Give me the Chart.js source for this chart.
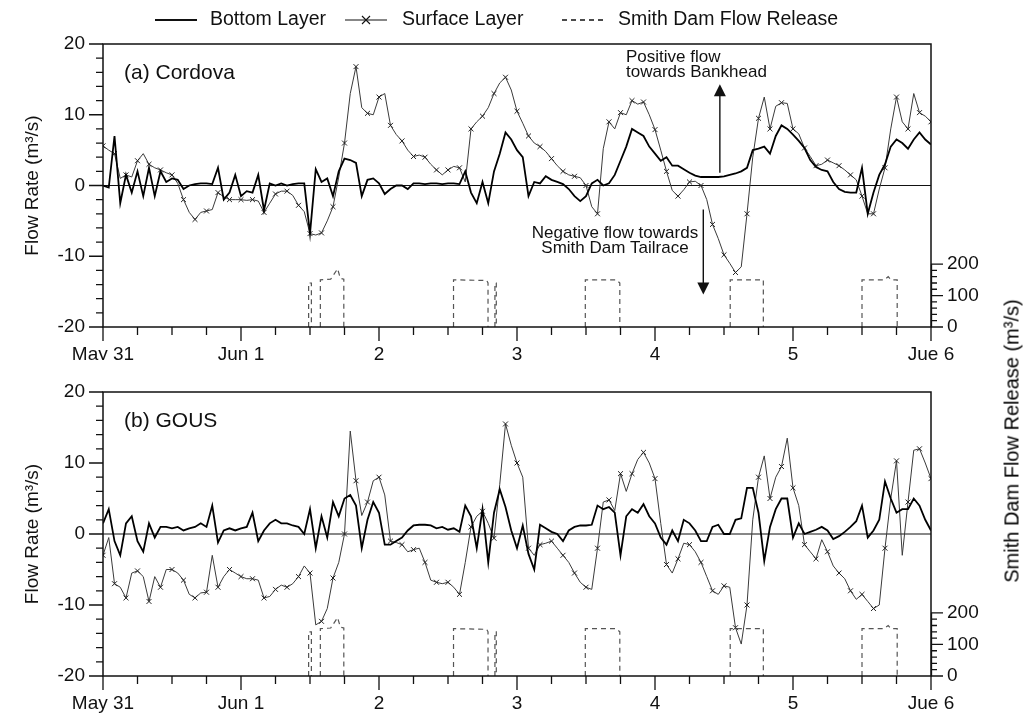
<!DOCTYPE html>
<html lang="en">
<head>
<meta charset="UTF-8">
<title>Flow rate at Cordova and GOUS</title>
<script src="https://cdn.jsdelivr.net/npm/chart.js"></script>
<style>
    body {
        margin: 0;
        background: #fff;
        font-family: 'Liberation Sans', Arial, sans-serif;
        overflow: hidden;
    }
    #page {
        position: relative;
        width: 1023px;
        height: 715px;
    }
    canvas {
        position: absolute;
        left: 0;
    }
    #cordova { top: 0; }
    #gous { top: 360px; }
    #releaseTitle {
        position: absolute;
        left: 1012px;
        top: 441px;
        transform: translate(-50%, -50%) rotate(-90deg);
        white-space: nowrap;
        font-size: 20px;
        color: #000;
    }
</style>
</head>
<body>
<div id="page">
    <canvas id="cordova" width="1023" height="360"></canvas>
    <canvas id="gous" width="1023" height="355"></canvas>
    <div id="releaseTitle">Smith Dam Flow Release (m³/s)</div>
</div>

<script>
    // hourly values, May 31 00:00 to Jun 6 00:00 (m3/s)
    const cordovaBottom = [
        0, -0.3, 7, -2.5, 1.5, -1, 2, -1.5, 2.5, -1.5, 2, 0.5, 1, 0.8, -0.5, 0, 0.2, 0.3, 0.3, 0.2,
        2.5, -2, -1, 1.5, -1.5, -0.8, -1, 1.5, -3.5, 0.3, 0, 0.3, 0, 0.2, 0.3, 0.3, -6.8, 2.3, 0.5, 1,
        -1.5, 2, 3.8, 3.6, 3.2, -1.5, 0.8, 1, 0.3, -1.2, -0.5, 0, 0, -0.5, 0.3, 0.3, 0.2, 0.3, 0.3, 0.2,
        0.3, 0.3, 0.2, 2, -1, -2.5, 0.5, -2.5, 2, 4.5, 7.5, 6.5, 5, 4, -1.5, 0.5, 0.3, 1.3, 0.8, 0.5,
        0.2, -0.5, -1.5, -2.2, -1.5, 0.3, 0.8, 0, 0.3, 1.5, 3.5, 5.5, 8, 7.5, 7, 5.5, 4.5, 3.5, 4, 2.8,
        2.8, 2.3, 1.8, 1.4, 1.2, 1.2, 1.2, 1.2, 1.3, 1.5, 1.7, 2, 2.5, 5, 5.2, 5.5, 4.5, 7, 8.5, 8,
        7.2, 6.3, 5.3, 3.6, 2.6, 2.2, 2, 0.5, -0.5, -0.9, -1, -1, 2.5, -4, -1, 1.5, 3, 5.5, 6.5, 6,
        5.2, 6.5, 7.5, 6.5, 5.8
    ];
    const cordovaSurface = [
        5.6, 5, 4.5, 1, 1.5, 1.2, 3.5, 4.5, 3, 2.5, 2.2, 1.8, 1.5, 0.3, -2, -3.8, -4.8, -3.8, -3.6, -3.4,
        -1, -1.6, -2, -2, -2, -2.1, -2, -2.2, -3.8, -2.5, -1.2, -0.8, -0.8, -1.4, -2.8, -3.7, -6.8, -7, -6.7, -5,
        -3, 1.2, 6, 13, 16.8, 11, 10.2, 10, 12.5, 13, 8.5, 7.2, 6.3, 5, 4.1, 4.3, 4, 3, 2.2, 1.5,
        2.2, 2.7, 2.5, 0.5, 8, 9, 9.8, 11, 13, 14.5, 15.3, 13.5, 10.5, 8.8, 7, 6, 5.5, 4.8, 3.8, 2.8,
        2, 1.5, 1.3, 1.1, 0, -3, -4, 5.2, 9, 8, 10.3, 10, 12, 11.5, 11.8, 10, 7.9, 5, 2, -0.7,
        -1.5, -0.6, 0.5, 0.6, 0, -2, -5.5, -7.5, -9.8, -11, -12.3, -11.5, -4, 4, 9.5, 12.5, 8, 11.2, 11.7, 11.6,
        8, 7.3, 5.3, 4.1, 2.8, 3, 3.6, 3.2, 2.8, 2.2, 1.5, 0.8, -1.5, -4, -4, -0.5, 2.5, 8, 12.5, 9,
        8, 13, 10.3, 9.8, 9
    ];
    const gousBottom = [
        1.5, 3.5, -1, -3, 1.5, 2.5, -1, -2.5, 1.5, -0.5, 1, 1, 0.8, 1, 0.5, 0.8, 1, 1.5, 1, 4,
        -1.2, 0.5, 0.8, 0.5, 0.8, 1, 3, -1, 0.5, 1.5, 2, 1.5, 1.5, 1.2, 1, 0, 3.5, -2, 2.5, -0.5,
        4.5, 2.5, 5, 5.5, 4, -2, 2, 4.5, 3, -1.5, -1.5, -1, -0.5, 0.5, 1.2, 1.3, 1.3, 1.2, 0.8, 1,
        0.6, 0.8, 0.3, 4, 2.5, -2, 3.5, -4, 3, 6.3, 3.8, 0.5, -2, 1.2, -2.8, -5, 1.3, 0.8, 0.3, 0,
        -1, 0.5, 1, 1.2, 1.2, 1.3, 4, 3.5, 3.8, 3, -3, 2.5, 3.5, 3, 4.2, 2.5, 1.5, -0.5, -1.5, 0.5,
        -1, 2, 1.5, 0.5, -1, -1, 1, 1.3, 0, 0, 2, 2.2, 6.5, 6.5, 3, -3.8, 1, 3.5, 5, 5,
        -0.5, 1.5, 0, 0.3, 0.6, 1, 0.5, -0.7, -0.3, 0.3, 1, 1.8, 4, -0.5, 0.5, 2, 7.4, 5, 3, 3.5,
        3.5, 5, 4, 2, 0.5
    ];
    const gousSurface = [
        -3, -0.5, -7, -7.5, -9, -5.5, -5.2, -6, -9.5, -6, -7.5, -5, -5, -5.5, -6.5, -8.5, -9, -8.3, -8.2, -3,
        -7.5, -6, -5, -5.5, -6, -6.3, -6.3, -6.5, -9, -8.8, -7.8, -7.2, -7.5, -7, -6, -4.5, -5.5, -12.8, -12.3, -10.5,
        -6.2, -4, 0, 14.5, 7.5, 2.6, 4.5, 7.5, 8, 5.5, -1, -1.2, -1.5, -2.5, -2.2, -2, -4, -6.5, -6.8, -7,
        -6.8, -7.5, -8.5, -4, 1, 2.5, 3.2, 1.5, -0.6, 7, 15.5, 12.5, 10, 8, -2, -3, -1.5, -1.3, -1, -2,
        -3, -4, -5.5, -6.8, -7.5, -7.8, -2, 4.5, 4.8, 3.3, 8.5, 6, 8.5, 10.5, 11.5, 10, 7.8, 1.5, -4.3, -5.5,
        -3.5, -1.3, -1.5, -2.5, -4, -6, -8, -8.5, -7.3, -7.5, -13.2, -15.5, -10, 2, 8, 11, 5, 8, 9.5, 13.5,
        6.5, 4, -1.5, -2.5, -3.5, -0.8, -2.5, -4.5, -5.5, -6.3, -8, -9.2, -8.5, -9.5, -10.5, -10, -2, 5, 10.3, -3,
        4.5, 11.8, 12, 10, 7.8
    ];

    // Smith Dam release pulses (day since May 31, m3/s); null breaks the line between pulses
    const releaseDay = [
        1.49, 1.49, 1.51, 1.51, 1.52, 1.575, 1.575, 1.65, 1.70, 1.72, 1.745, 1.745, 1.8,
        2.54, 2.54, 2.78, 2.79, 2.79, 2.8, 2.84, 2.84, 2.85, 2.85, 2.9,
        3.495, 3.495, 3.72, 3.745, 3.745, 3.8,
        4.545, 4.545, 4.785, 4.785, 4.8,
        5.50, 5.50, 5.66, 5.69, 5.71, 5.755, 5.755
    ];
    const releaseFlow = [
        0, 140, 140, 0, null, 0, 150, 152, 185, 155, 152, 0, null,
        0, 150, 148, 140, 0, null, 0, 140, 140, 0, null,
        0, 150, 150, 140, 0, null,
        0, 150, 150, 0, null,
        0, 150, 150, 160, 150, 150, 0
    ];

    const dayLabels = ['May 31', 'Jun 1', '2', '3', '4', '5', 'Jue 6'];
    const flowTicks = [-20, -10, 0, 10, 20];
    const releaseTicks = [0, 100, 200];

    const ink = '#111';
    const fontFamily = "'Liberation Sans', Arial, sans-serif";
    Chart.defaults.font.family = fontFamily;
    Chart.defaults.color = ink;

    function toPoints(values) {
        return values.map((v, i) => ({ x: i / 24, y: v }));
    }

    const releasePoints = releaseDay.map((d, i) => ({ x: d, y: releaseFlow[i] }));

    function drawArrow(ctx, x, y0, y1) {
        const dir = y1 < y0 ? 1 : -1;
        ctx.beginPath();
        ctx.moveTo(x, y0);
        ctx.lineTo(x, y1 + dir * 11);
        ctx.stroke();
        ctx.beginPath();
        ctx.moveTo(x, y1);
        ctx.lineTo(x - 6, y1 + dir * 12);
        ctx.lineTo(x + 6, y1 + dir * 12);
        ctx.closePath();
        ctx.fill();
    }

    function drawCross(ctx, x, y, r) {
        ctx.beginPath();
        ctx.moveTo(x - r, y - r);
        ctx.lineTo(x + r, y + r);
        ctx.moveTo(x - r, y + r);
        ctx.lineTo(x + r, y - r);
        ctx.stroke();
    }

    // frame, minor/major tick marks, zero line, panel label and notes
    const panelDecor = {
        id: 'panelDecor',
        beforeDatasetsDraw(chart) {
            const { ctx, chartArea: a, scales } = chart;
            const y0 = scales.y.getPixelForValue(0);
            ctx.save();
            ctx.strokeStyle = ink;
            ctx.lineWidth = 1.2;
            ctx.beginPath();
            ctx.moveTo(a.left, y0);
            ctx.lineTo(a.right, y0);
            ctx.stroke();
            ctx.restore();
        },
        afterDraw(chart, args, opts) {
            const { ctx, chartArea: a, scales } = chart;
            const xs = scales.x, yl = scales.y, yr = scales.y2;
            ctx.save();
            ctx.strokeStyle = ink;
            ctx.fillStyle = ink;
            ctx.lineWidth = 1.5;
            ctx.strokeRect(a.left, a.top, a.right - a.left, a.bottom - a.top);

            ctx.lineWidth = 1.3;
            ctx.beginPath();
            for (let q = 0; q <= 24; q++) {
                const px = xs.getPixelForValue(q / 4);
                ctx.moveTo(px, a.bottom);
                ctx.lineTo(px, a.bottom + (q % 4 === 0 ? 14 : 8));
            }
            for (let v = -20; v <= 20; v += 2) {
                const py = yl.getPixelForValue(v);
                ctx.moveTo(a.left, py);
                ctx.lineTo(a.left - (v % 10 === 0 ? 14 : 7), py);
            }
            for (let v = 0; v <= 200; v += 20) {
                const py = yr.getPixelForValue(v);
                ctx.moveTo(a.right, py);
                ctx.lineTo(a.right + (v % 100 === 0 ? 12 : 6), py);
            }
            ctx.moveTo(a.right + 0.5, yr.getPixelForValue(0));
            ctx.lineTo(a.right + 0.5, yr.getPixelForValue(200));
            ctx.stroke();

            // left axis title
            ctx.save();
            ctx.translate(33, (a.top + a.bottom) / 2);
            ctx.rotate(-Math.PI / 2);
            ctx.font = '19px ' + fontFamily;
            ctx.textAlign = 'center';
            ctx.textBaseline = 'middle';
            ctx.fillText('Flow Rate (m³/s)', 0, 0);
            ctx.restore();

            ctx.font = '21px ' + fontFamily;
            ctx.textBaseline = 'alphabetic';
            ctx.fillText(opts.label, a.left + 21, a.top + 35);

            if (opts.notes) {
                ctx.font = '17px ' + fontFamily;
                let px = xs.getPixelForValue(3.79);
                let py = yl.getPixelForValue(17.4);
                ctx.textAlign = 'left';
                ctx.fillText('Positive flow', px, py);
                ctx.fillText('towards Bankhead', px, py + 15);

                px = xs.getPixelForValue(3.71);
                py = yl.getPixelForValue(-7.35);
                ctx.textAlign = 'center';
                ctx.fillText('Negative flow towards', px, py);
                ctx.fillText('Smith Dam Tailrace', px, py + 15);

                ctx.lineWidth = 1.4;
                drawArrow(ctx, xs.getPixelForValue(4.47), yl.getPixelForValue(1.8), yl.getPixelForValue(14.3));
                drawArrow(ctx, xs.getPixelForValue(4.35), yl.getPixelForValue(-3.4), yl.getPixelForValue(-15.4));
            }

            if (opts.legend) {
                const ly = 20;
                ctx.font = '19.5px ' + fontFamily;
                ctx.textAlign = 'left';
                ctx.textBaseline = 'middle';
                ctx.lineWidth = 1.8;
                ctx.beginPath();
                ctx.moveTo(155, ly);
                ctx.lineTo(197, ly);
                ctx.stroke();
                ctx.fillText('Bottom Layer', 210, ly);

                ctx.lineWidth = 1.1;
                ctx.beginPath();
                ctx.moveTo(345, ly);
                ctx.lineTo(387, ly);
                ctx.stroke();
                drawCross(ctx, 366, ly, 4);
                ctx.fillText('Surface Layer', 402, ly);

                ctx.lineWidth = 1.3;
                ctx.setLineDash([5, 4]);
                ctx.beginPath();
                ctx.moveTo(562, ly);
                ctx.lineTo(605, ly);
                ctx.stroke();
                ctx.setLineDash([]);
                ctx.fillText('Smith Dam Flow Release', 618, ly);
            }
            ctx.restore();
        }
    };

    function makePanel(id, bottom, surface, cfg) {
        return new Chart(document.getElementById(id), {
            type: 'line',
            data: {
                datasets: [
                    {
                        label: 'Bottom Layer',
                        data: toPoints(bottom),
                        borderColor: '#000',
                        borderWidth: 1.8,
                        pointRadius: 0,
                        yAxisID: 'y'
                    },
                    {
                        label: 'Surface Layer',
                        data: toPoints(surface),
                        borderColor: '#3a3a3a',
                        borderWidth: 1,
                        pointStyle: 'crossRot',
                        pointRadius: c => (c.dataIndex % 2 === 0 ? 3.5 : 0),
                        pointBorderColor: '#222',
                        pointBorderWidth: 1,
                        yAxisID: 'y'
                    },
                    {
                        label: 'Smith Dam Flow Release',
                        data: releasePoints,
                        borderColor: '#555',
                        borderWidth: 1.2,
                        borderDash: [5, 4],
                        pointRadius: 0,
                        spanGaps: false,
                        yAxisID: 'y2'
                    }
                ]
            },
            options: {
                responsive: false,
                animation: false,
                events: [],
                layout: { padding: { top: cfg.top, left: 0, right: 0, bottom: 0 } },
                elements: { line: { tension: 0 } },
                plugins: {
                    legend: { display: false },
                    tooltip: { enabled: false },
                    panelDecor: cfg
                },
                scales: {
                    x: {
                        type: 'linear',
                        min: 0,
                        max: 6,
                        grid: { display: false, drawTicks: false },
                        border: { display: false },
                        afterBuildTicks: s => { s.ticks = dayLabels.map((t, i) => ({ value: i })); },
                        ticks: {
                            padding: 16,
                            autoSkip: false,
                            maxRotation: 0,
                            font: { size: 19 },
                            callback: v => dayLabels[Math.round(v)]
                        },
                        afterFit: s => { s.height = cfg.xHeight; }
                    },
                    y: {
                        position: 'left',
                        min: -20,
                        max: 20,
                        grid: { display: false, drawTicks: false },
                        border: { display: false },
                        afterBuildTicks: s => { s.ticks = flowTicks.map(v => ({ value: v })); },
                        ticks: { padding: 18, font: { size: 19 } },
                        afterFit: s => { s.width = 103; }
                    },
                    y2: {
                        position: 'right',
                        min: 0,
                        max: 900,
                        grid: { display: false, drawTicks: false },
                        border: { display: false },
                        afterBuildTicks: s => { s.ticks = releaseTicks.map(v => ({ value: v })); },
                        ticks: { padding: 16, font: { size: 19 } },
                        afterFit: s => { s.width = 92; }
                    }
                }
            },
            plugins: [panelDecor]
        });
    }

    makePanel('cordova', cordovaBottom, cordovaSurface,
        { label: '(a) Cordova', notes: true, legend: true, top: 44, xHeight: 33 });
    makePanel('gous', gousBottom, gousSurface,
        { label: '(b) GOUS', notes: false, legend: false, top: 32, xHeight: 39 });
</script>
</body>
</html>
